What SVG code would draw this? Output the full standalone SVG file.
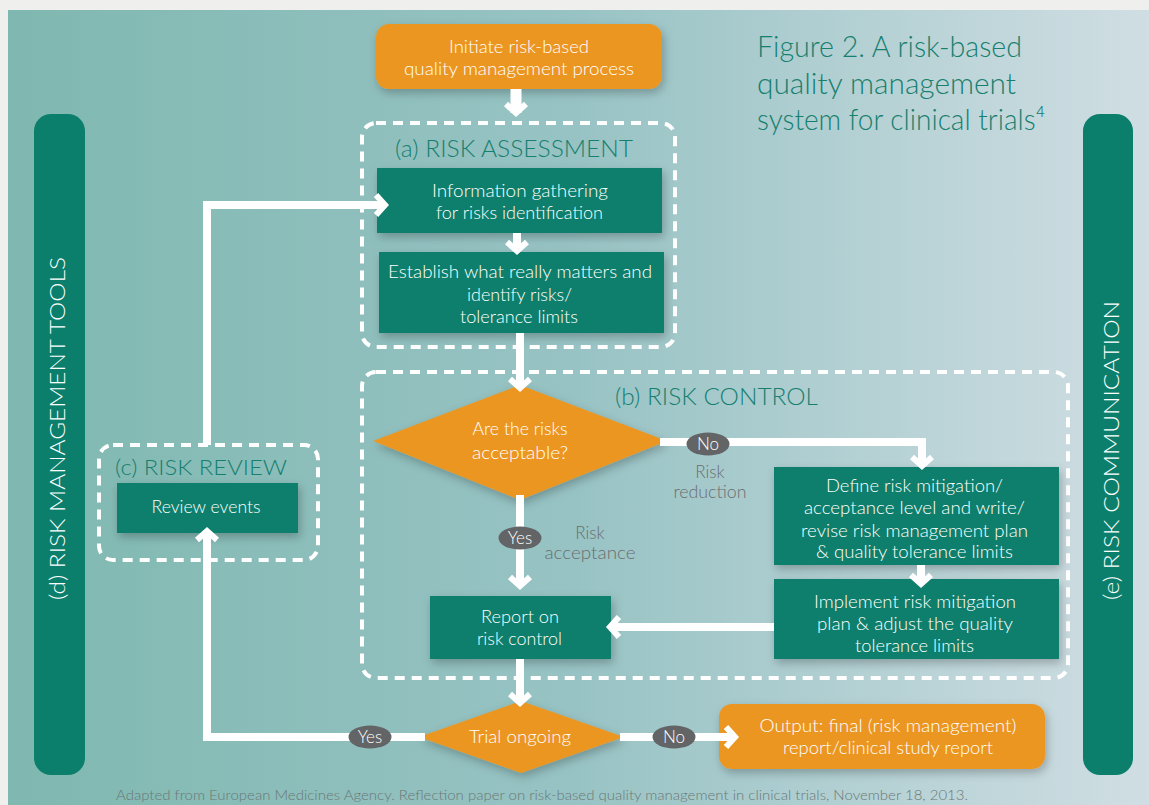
<svg xmlns="http://www.w3.org/2000/svg" width="1149" height="805" viewBox="0 0 1149 805">
<defs>
<linearGradient id="bg" x1="0" y1="0" x2="1" y2="0">
<stop offset="0" stop-color="#7fb8b0"/>
<stop offset="0.5" stop-color="#98c3c4"/>
<stop offset="1" stop-color="#d0dee3"/>
</linearGradient>
<filter id="sh" x="-20%" y="-30%" width="140%" height="170%">
<feDropShadow dx="2" dy="4" stdDeviation="5" flood-color="#000" flood-opacity="0.25"/>
</filter>
<marker id="ah" markerUnits="userSpaceOnUse" viewBox="0 0 22 26" refX="13" refY="13" markerWidth="22" markerHeight="26" orient="auto" overflow="visible">
<path d="M4,3 L13,13 L4,23" stroke="#fff" stroke-width="6" fill="none" stroke-linejoin="miter" stroke-miterlimit="10"/>
</marker>
<style>
.box{fill:#0b7f6c;filter:url(#sh)}
.org{fill:#ec9624;filter:url(#sh)}
.grp{fill:none;stroke:#fff;stroke-width:4;stroke-dasharray:10 7}
.bar{fill:#0b7f6c}
.t{font-family:Lato,"Open Sans",sans-serif;font-size:17px;fill:#fff;text-anchor:middle;font-weight:300}
.sec{font-family:Lato,"Open Sans",sans-serif;font-size:23px;fill:#16806f;font-weight:300}
.ttl{font-family:Lato,"Open Sans",sans-serif;font-size:30px;fill:#16806f;font-weight:300}
.lbl{font-family:Lato,"Open Sans",sans-serif;font-size:17px;fill:#6b6d70;text-anchor:middle;font-weight:300}
.side{font-family:Lato,"Open Sans",sans-serif;font-size:21px;fill:#fff;font-weight:300}
.foot{font-family:Lato,"Open Sans",sans-serif;font-size:13.5px;fill:#6a7877;font-weight:300}
.ln{fill:none;stroke:#fff;stroke-width:8;marker-end:url(#ah)}
.pill{fill:#636466}
.pt{font-family:Lato,"Open Sans",sans-serif;font-size:17px;fill:#fff;text-anchor:middle;font-weight:300}
</style>
</defs>
<rect x="0" y="0" width="1149" height="805" fill="#efefee"/>
<rect x="8" y="10" width="1141" height="795" fill="url(#bg)"/>

<g id="title">
<text class="ttl" x="757" y="57" textLength="265" lengthAdjust="spacingAndGlyphs">Figure 2. A risk-based</text>
<text class="ttl" x="757" y="94" textLength="259" lengthAdjust="spacingAndGlyphs">quality management</text>
<text class="ttl" x="757" y="130" textLength="288" lengthAdjust="spacingAndGlyphs">system for clinical trials⁴</text>
</g>

<g id="tools">
<rect class="bar" x="34" y="114" width="51" height="661" rx="17"/>
<text class="side" transform="translate(65,600) rotate(-90)" textLength="343" lengthAdjust="spacingAndGlyphs">(d) RISK MANAGEMENT TOOLS</text>
</g>
<g id="communication">
<rect class="bar" x="1083" y="114" width="50" height="661" rx="17"/>
<text class="side" transform="translate(1119,600) rotate(-90)" textLength="299" lengthAdjust="spacingAndGlyphs">(e) RISK COMMUNICATION</text>
</g>

<g id="assessment">
<rect class="grp" x="362" y="123" width="313" height="224" rx="14"/>
<text class="sec" x="395" y="157" textLength="238" lengthAdjust="spacingAndGlyphs">(a) RISK ASSESSMENT</text>
</g>
<g id="control">
<rect class="grp" x="362" y="372" width="706" height="306" rx="14"/>
<text class="sec" x="615" y="405" textLength="203" lengthAdjust="spacingAndGlyphs">(b) RISK CONTROL</text>
</g>
<g id="review">
<rect class="grp" x="99" y="445" width="219" height="115" rx="14"/>
<text class="sec" x="115" y="475" style="font-size:22px" textLength="172" lengthAdjust="spacingAndGlyphs">(c) RISK REVIEW</text>
</g>

<g id="initiate">
<rect class="org" x="376" y="24" width="286" height="65" rx="13"/>
<text class="t" x="519" y="53" textLength="140" lengthAdjust="spacingAndGlyphs">Initiate risk-based</text>
<text class="t" x="519" y="75" textLength="230" lengthAdjust="spacingAndGlyphs">quality management process</text>
</g>
<g id="info">
<rect class="box" x="377" y="168" width="285" height="65"/>
<text class="t" x="520" y="197" textLength="176" lengthAdjust="spacingAndGlyphs">Information gathering</text>
<text class="t" x="519.5" y="219" textLength="167" lengthAdjust="spacingAndGlyphs">for risks identification</text>
</g>
<g id="establish">
<rect class="box" x="379" y="252" width="285" height="81"/>
<text class="t" x="520" y="278" textLength="264" lengthAdjust="spacingAndGlyphs">Establish what really matters and</text>
<text class="t" x="519.5" y="301" textLength="105" lengthAdjust="spacingAndGlyphs">identify risks/</text>
<text class="t" x="519" y="323" textLength="118" lengthAdjust="spacingAndGlyphs">tolerance limits</text>
</g>
<g id="acceptable">
<polygon class="org" points="520,385 667,441 520,500 373,441"/>
<text class="t" x="520" y="435" textLength="95" lengthAdjust="spacingAndGlyphs">Are the risks</text>
<text class="t" x="520" y="459" textLength="96" lengthAdjust="spacingAndGlyphs">acceptable?</text>
</g>
<g id="define">
<rect class="box" x="774" y="467" width="285" height="98"/>
<text class="t" x="914.5" y="492" textLength="177" lengthAdjust="spacingAndGlyphs">Define risk mitigation/</text>
<text class="t" x="914.5" y="514" textLength="221" lengthAdjust="spacingAndGlyphs">acceptance level and write/</text>
<text class="t" x="914.5" y="537" textLength="227" lengthAdjust="spacingAndGlyphs">revise risk management plan</text>
<text class="t" x="914.5" y="558" textLength="197" lengthAdjust="spacingAndGlyphs">&amp; quality tolerance limits</text>
</g>
<g id="implement">
<rect class="box" x="774" y="579" width="285" height="80"/>
<text class="t" x="915" y="608" textLength="202" lengthAdjust="spacingAndGlyphs">Implement risk mitigation</text>
<text class="t" x="915" y="630" textLength="196" lengthAdjust="spacingAndGlyphs">plan &amp; adjust the quality</text>
<text class="t" x="914.5" y="652" textLength="119" lengthAdjust="spacingAndGlyphs">tolerance limits</text>
</g>
<g id="report">
<rect class="box" x="430" y="596" width="181" height="63"/>
<text class="t" x="520" y="623" textLength="78" lengthAdjust="spacingAndGlyphs">Report on</text>
<text class="t" x="519.5" y="645" textLength="85" lengthAdjust="spacingAndGlyphs">risk control</text>
</g>
<g id="reviewevents">
<rect class="box" x="117" y="483" width="181" height="50"/>
<text class="t" x="206" y="513" textLength="109" lengthAdjust="spacingAndGlyphs">Review events</text>
</g>
<g id="ongoing">
<polygon class="org" points="521,701 624,737 521,773 419,737"/>
<text class="t" x="520" y="743" textLength="102" lengthAdjust="spacingAndGlyphs">Trial ongoing</text>
</g>
<g id="output">
<rect class="org" x="719" y="704" width="326" height="65" rx="13"/>
<text class="t" x="888" y="732" textLength="257" lengthAdjust="spacingAndGlyphs">Output: final (risk management)</text>
<text class="t" x="888" y="754" textLength="210" lengthAdjust="spacingAndGlyphs">report/clinical study report</text>
</g>

<g id="connectors">
<path class="ln" d="M516,89 V113" style="stroke-width:11"/>
<path class="ln" d="M517,233 V251"/>
<path class="ln" d="M520,333 V388"/>
<path class="ln" d="M660,442 H922 V466"/>
<path class="ln" d="M520,495 V586"/>
<path class="ln" d="M921,565 V584"/>
<path class="ln" d="M774,627 H610"/>
<path class="ln" d="M520,659 V703"/>
<path class="ln" d="M425,737 H207 V531"/>
<path class="ln" d="M620,737 H735"/>
<path class="ln" d="M207,445 V205 H385"/>
<ellipse class="pill" cx="708" cy="444" rx="21.5" ry="11.5"/>
<text class="pt" x="708" y="450">No</text>
<ellipse class="pill" cx="520" cy="538" rx="21.5" ry="11.5"/>
<text class="pt" x="520" y="544">Yes</text>
<ellipse class="pill" cx="370" cy="737" rx="21.5" ry="11.5"/>
<text class="pt" x="370" y="743">Yes</text>
<ellipse class="pill" cx="674" cy="737" rx="21.5" ry="11.5"/>
<text class="pt" x="674" y="743">No</text>
<text class="lbl" x="710" y="478">Risk</text>
<text class="lbl" x="710" y="498" textLength="73" lengthAdjust="spacingAndGlyphs">reduction</text>
<text class="lbl" x="590" y="539">Risk</text>
<text class="lbl" x="590" y="559" textLength="91" lengthAdjust="spacingAndGlyphs">acceptance</text>
</g>

<text class="foot" x="116" y="800" textLength="852" lengthAdjust="spacingAndGlyphs">Adapted from European Medicines Agency. Reflection paper on risk-based quality management in clinical trials, November 18, 2013.</text>
</svg>
